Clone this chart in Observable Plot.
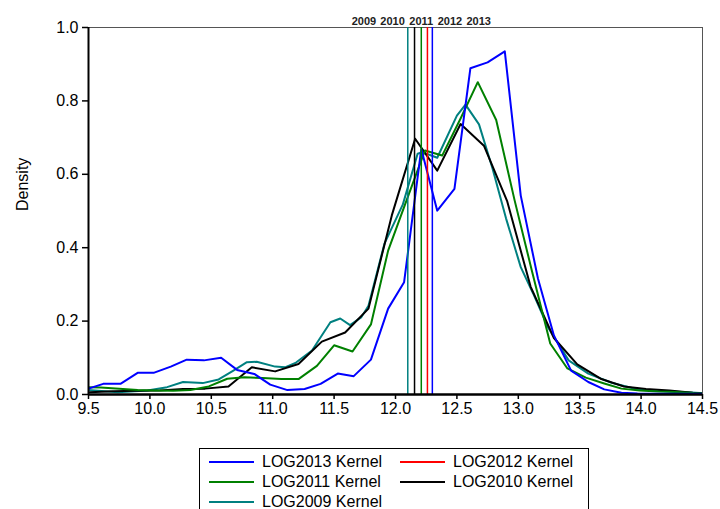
<!DOCTYPE html>
<html><head><meta charset="utf-8">
<script src="https://cdn.jsdelivr.net/npm/d3@7"></script>
<script src="https://cdn.jsdelivr.net/npm/@observablehq/plot@0.6"></script>
<style>
body{margin:0;background:#fff;font-family:"Liberation Sans",Arial,sans-serif;}
#legend{position:relative;margin-left:199px;margin-top:18px;width:390px;height:70px;border:1px solid #000;box-sizing:border-box;}
.item{position:absolute;display:flex;align-items:center;font-size:16px;height:20px;white-space:nowrap;}
.swatch{width:45px;height:0;border-top:2px solid;margin-right:8px;}
</style></head><body><div id="chart"></div><div id="legend"></div>
<script>
const xTicks = [9.5,10.0,10.5,11.0,11.5,12.0,12.5,13.0,13.5,14.0,14.5];
const yTicks = [0,0.2,0.4,0.6,0.8,1.0];

const blueX = [9.49,9.62,9.76,9.90,10.03,10.17,10.30,10.44,10.58,10.71,10.85,10.98,11.12,11.26,11.39,11.53,11.66,11.80,11.94,12.07,12.21,12.34,12.48,12.61,12.75,12.89,13.02,13.16,13.29,13.43,13.57,13.70,13.84,13.97,14.11,14.25,14.38,14.52];
const blueY = [0.015,0.029,0.029,0.059,0.059,0.076,0.095,0.093,0.100,0.067,0.056,0.027,0.012,0.015,0.029,0.057,0.050,0.095,0.234,0.306,0.669,0.501,0.560,0.889,0.905,0.935,0.542,0.316,0.161,0.065,0.034,0.014,0.005,0.003,0.002,0.002,0.002,0.002];

const greenX = [9.46,9.60,9.75,9.90,10.04,10.19,10.33,10.48,10.63,10.77,10.92,11.07,11.21,11.36,11.50,11.65,11.80,11.94,12.09,12.24,12.38,12.53,12.67,12.82,12.97,13.11,13.26,13.40,13.55,13.70,13.84,13.99,14.14,14.28,14.43,14.57];
const greenY = [0.020,0.019,0.016,0.012,0.011,0.010,0.012,0.022,0.043,0.047,0.045,0.042,0.042,0.078,0.134,0.117,0.191,0.392,0.529,0.665,0.651,0.752,0.851,0.748,0.529,0.338,0.139,0.071,0.046,0.030,0.016,0.011,0.008,0.007,0.004,0.003];

const blackX = [9.51,9.70,9.89,10.08,10.27,10.45,10.64,10.83,11.02,11.21,11.40,11.59,11.78,11.97,12.16,12.34,12.53,12.72,12.91,13.10,13.29,13.48,13.67,13.86,14.04,14.23,14.42,14.61];
const blackY = [0.006,0.009,0.010,0.011,0.015,0.016,0.022,0.074,0.063,0.083,0.144,0.169,0.234,0.488,0.697,0.610,0.737,0.678,0.526,0.294,0.154,0.082,0.043,0.022,0.015,0.011,0.005,0.003];

const tealX = [9.50,9.74,9.98,10.14,10.27,10.43,10.56,10.68,10.79,10.87,11.02,11.10,11.19,11.32,11.47,11.55,11.63,11.72,11.78,11.91,12.06,12.18,12.22,12.34,12.50,12.57,12.68,12.79,12.90,13.02,13.12,13.24,13.41,13.57,13.76,13.98,14.22,14.48];
const tealY = [0.012,0.006,0.011,0.020,0.034,0.031,0.041,0.065,0.088,0.089,0.076,0.074,0.087,0.120,0.197,0.207,0.189,0.210,0.242,0.411,0.518,0.656,0.660,0.645,0.760,0.790,0.736,0.616,0.480,0.347,0.276,0.184,0.093,0.057,0.032,0.013,0.009,0.004];

const years = ["2009","2010","2011","2012","2013"];
const means = [12.10,12.155,12.21,12.26,12.30];
const colors = ["#008080","#000000","#008000","#ff0000","#0000ff"];

const legendNames = ["LOG2013 Kernel","LOG2012 Kernel","LOG2011 Kernel","LOG2010 Kernel","LOG2009 Kernel"];
const legendColors = ["#0000ff","#ff0000","#008000","#000000","#008080"];

const curves = [
  {xs: tealX, ys: tealY, color: "#008080"},
  {xs: blackX, ys: blackY, color: "#000000"},
  {xs: greenX, ys: greenY, color: "#008000"},
  {xs: blueX, ys: blueY, color: "#0000ff"}
];

const lineMarks = curves.map(c => Plot.line(c.xs.map((x, i) => ({x, y: c.ys[i]})), {x: "x", y: "y", stroke: c.color, strokeWidth: 2, clip: true}));
const ruleMarks = means.map((m, i) => Plot.ruleX([m], {stroke: colors[i], strokeWidth: 1.5}));
const labelMarks = years.map((yr, i) => Plot.text([{label: yr, x: means[2]}], {x: "x", text: "label", frameAnchor: "top", dy: -10, dx: (i - 2) * 28.7, fontSize: 11, fontWeight: "bold", fill: "#222"}));

const chart = Plot.plot({
  width: 720, height: 430,
  marginLeft: 88, marginRight: 18, marginTop: 27, marginBottom: 36,
  style: {fontFamily: "'Liberation Sans', Arial, sans-serif", fontSize: "16px", background: "white", color: "#000"},
  x: {domain: [9.5, 14.5]},
  y: {domain: [0, 1]},
  marks: [
    Plot.frame({stroke: "#555", strokeWidth: 1}),
    ...lineMarks,
    ...ruleMarks,
    Plot.ruleY([0], {strokeWidth: 2.5}),
    Plot.ruleX([9.5], {strokeWidth: 2}),
    Plot.axisX({ticks: xTicks, tickFormat: d3.format(".1f"), tickSize: 5, tickPadding: 3, label: null, strokeWidth: 1.5}),
    Plot.axisY({ticks: yTicks, tickFormat: d3.format(".1f"), tickSize: 6, tickPadding: 4, label: null, strokeWidth: 1.5}),
    Plot.text(["Density"], {frameAnchor: "left", dx: -66, rotate: -90, fontSize: 16}),
    ...labelMarks
  ]
});
document.getElementById("chart").appendChild(chart);
d3.select(chart).selectAll("text").filter(function() { return /^\d+\.\d$/.test(this.textContent); })
  .style("font-size", "16px");

const legend = document.getElementById("legend");
legendNames.forEach((name, i) => {
  const row = Math.floor(i / 2), col = i % 2;
  const item = document.createElement("div");
  item.className = "item";
  item.style.left = (9 + col * 191) + "px";
  item.style.top = (3 + row * 20) + "px";
  const sw = document.createElement("span");
  sw.className = "swatch";
  sw.style.borderTopColor = legendColors[i];
  const t = document.createElement("span");
  t.textContent = name;
  item.appendChild(sw); item.appendChild(t);
  legend.appendChild(item);
});
</script></body></html>
